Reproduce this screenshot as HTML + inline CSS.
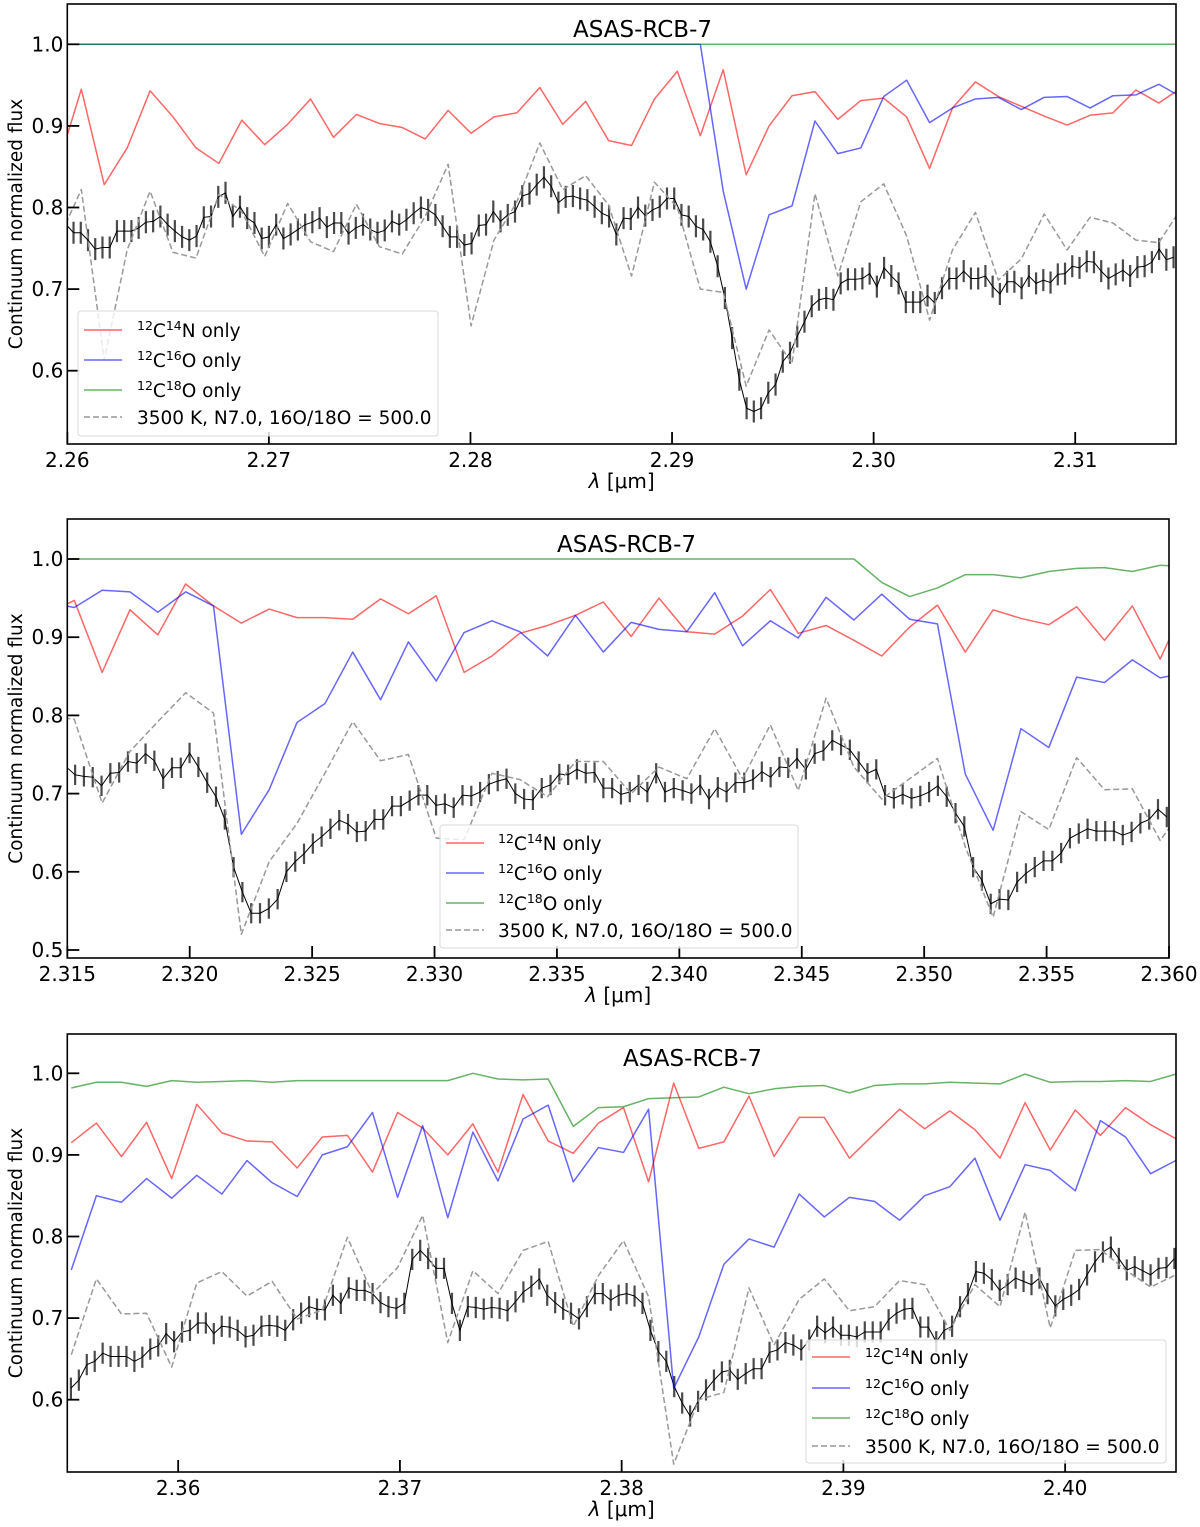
<!DOCTYPE html>
<html><head><meta charset="utf-8"><title>ASAS-RCB-7 spectra</title>
<style>
html,body{margin:0;padding:0;background:#fff;}
svg{display:block;font-family:"DejaVu Sans","Liberation Sans",sans-serif;}
</style></head>
<body>
<svg id="fig" width="1200" height="1527" viewBox="0 0 1200 1527" xmlns="http://www.w3.org/2000/svg"></svg>
<script>
// ---------- Panel 1 data (2.260-2.315 um) ----------
const p1ModelStart = 2.259558;
const p1ModelStep = 0.0011373;
const p1Red = [0.853,0.945,0.828,0.873,0.943,0.911,0.873,0.854,0.907,0.877,0.902,0.933,0.886,0.914,0.903,0.898,0.884,0.919,0.891,0.911,0.916,0.947,0.902,0.930,0.882,0.876,0.933,0.967,0.888,0.969,0.840,0.900,0.937,0.942,0.908,0.931,0.934,0.911,0.848,0.922,0.954,0.936,0.924,0.912,0.901,0.913,0.916,0.944,0.928,0.947];
const p1Blue = [1,1,1,1,1,1,1,1,1,1,1,1,1,1,1,1,1,1,1,1,1,1,1,1,1,1,1,1,1,0.820,0.700,0.791,0.802,0.906,0.866,0.873,0.936,0.956,0.904,0.922,0.933,0.935,0.920,0.935,0.936,0.922,0.937,0.938,0.951,0.935];
const p1Green = [1,1,1,1,1,1,1,1,1,1,1,1,1,1,1,1,1,1,1,1,1,1,1,1,1,1,1,1,1,1,1,1,1,1,1,1,1,1,1,1,1,1,1,1,1,1,1,1,1,1];
const p1Model = [0.76,0.822,0.613,0.748,0.820,0.745,0.738,0.816,0.795,0.740,0.805,0.758,0.746,0.804,0.752,0.743,0.789,0.853,0.655,0.760,0.807,0.879,0.822,0.839,0.803,0.716,0.831,0.80,0.700,0.696,0.581,0.650,0.609,0.817,0.716,0.807,0.829,0.765,0.662,0.748,0.794,0.711,0.737,0.792,0.748,0.788,0.781,0.760,0.757,0.80];
const p1ObsStart = 2.25995;
const p1ObsEnd = 2.31488;
const p1Obs = [0.779,0.769,0.769,0.760,0.749,0.751,0.751,0.771,0.771,0.771,0.775,0.782,0.783,0.789,0.779,0.771,0.764,0.760,0.765,0.788,0.789,0.813,0.818,0.789,0.801,0.787,0.781,0.762,0.764,0.779,0.762,0.767,0.773,0.779,0.782,0.787,0.776,0.781,0.781,0.768,0.775,0.779,0.773,0.769,0.772,0.783,0.779,0.785,0.793,0.800,0.797,0.791,0.777,0.764,0.764,0.754,0.756,0.778,0.779,0.795,0.783,0.791,0.795,0.814,0.817,0.828,0.837,0.826,0.806,0.813,0.814,0.811,0.809,0.801,0.793,0.789,0.767,0.787,
0.786,0.800,0.790,0.797,0.801,0.811,0.811,0.791,0.789,0.777,0.773,0.758,0.728,0.689,0.640,0.589,0.554,0.550,0.554,0.573,0.583,0.611,0.622,0.642,0.660,0.679,0.687,0.689,0.687,0.707,0.712,0.712,0.713,0.719,0.703,0.726,0.716,0.707,0.684,0.684,0.684,0.692,0.683,0.701,0.713,0.713,0.722,0.713,0.713,0.716,0.703,0.694,0.709,0.709,0.701,0.716,0.707,0.711,0.708,0.718,0.719,0.728,0.726,0.734,0.733,0.722,0.713,0.718,0.723,0.716,0.727,0.728,0.733,0.749,0.736,0.739];
const p1Err = 0.0135;
const p1XTicks = [2.26,2.27,2.28,2.29,2.30,2.31];
const p1XTickLabels = ["2.26","2.27","2.28","2.29","2.30","2.31"];
const p1YTicks = [0.6,0.7,0.8,0.9,1.0];
const p1YTickLabels = ["0.6","0.7","0.8","0.9","1.0"];

// ---------- Panel 2 data (2.315-2.360 um) ----------
const p2ModelStart = 2.314148;
const p2ModelStep = 0.0011373;
const p2Red = [0.93,0.947,0.855,0.935,0.903,0.968,0.940,0.918,0.936,0.925,0.925,0.923,0.949,0.930,0.953,0.855,0.876,0.905,0.915,0.928,0.945,0.901,0.950,0.907,0.904,0.927,0.961,0.905,0.915,0.896,0.876,0.913,0.941,0.881,0.935,0.924,0.916,0.939,0.896,0.940,0.872,0.95];
const p2Blue = [0.945,0.938,0.960,0.958,0.932,0.958,0.940,0.648,0.705,0.791,0.815,0.881,0.820,0.894,0.844,0.906,0.921,0.907,0.876,0.928,0.881,0.919,0.910,0.907,0.957,0.889,0.921,0.899,0.951,0.922,0.955,0.923,0.917,0.725,0.653,0.783,0.759,0.849,0.842,0.871,0.848,0.855];
const p2Green = [1,1,1,1,1,1,1,1,1,1,1,1,1,1,1,1,1,1,1,1,1,1,1,1,1,1,1,1,1,1,0.970,0.952,0.963,0.980,0.980,0.976,0.984,0.988,0.989,0.984,0.992,0.99];
const p2Model = [0.80,0.795,0.688,0.754,0.792,0.829,0.803,0.520,0.613,0.662,0.726,0.792,0.742,0.750,0.643,0.641,0.726,0.718,0.696,0.741,0.741,0.700,0.734,0.719,0.783,0.719,0.788,0.704,0.822,0.734,0.693,0.719,0.745,0.632,0.542,0.677,0.654,0.746,0.705,0.706,0.640,0.69];
const p2ObsStart = 2.31496;
const p2ObsEnd = 2.35991;
const p2Obs = [0.734,0.724,0.722,0.721,0.710,0.726,0.727,0.741,0.739,0.751,0.742,0.719,0.733,0.733,0.752,0.734,0.714,0.696,0.667,0.606,0.574,0.547,0.547,0.553,0.565,0.600,0.613,0.623,0.636,0.645,0.655,0.666,0.661,0.651,0.652,0.667,0.667,0.684,0.684,0.691,0.698,0.698,0.685,0.687,0.682,0.698,0.697,0.702,0.712,0.716,0.719,0.700,0.693,0.692,0.707,0.711,0.725,0.724,0.731,0.726,0.727,0.707,0.707,0.699,
0.702,0.711,0.702,0.726,0.702,0.707,0.704,0.700,0.711,0.693,0.708,0.702,0.714,0.714,0.718,0.728,0.721,0.734,0.733,0.745,0.731,0.751,0.755,0.768,0.762,0.756,0.741,0.726,0.731,0.698,0.694,0.699,0.694,0.697,0.702,0.710,0.696,0.675,0.658,0.606,0.589,0.559,0.565,0.564,0.587,0.598,0.606,0.614,0.614,0.624,0.643,0.649,0.655,0.652,0.652,0.652,0.647,0.651,0.662,0.667,0.680,0.670];
const p2Err = 0.013;
const p2XTicks = [2.315,2.320,2.325,2.330,2.335,2.340,2.345,2.350,2.355,2.360];
const p2XTickLabels = ["2.315","2.320","2.325","2.330","2.335","2.340","2.345","2.350","2.355","2.360"];
const p2YTicks = [0.5,0.6,0.7,0.8,0.9,1.0];
const p2YTickLabels = ["0.5","0.6","0.7","0.8","0.9","1.0"];

// ---------- Panel 3 data (2.355-2.405 um) ----------
const p3ModelStart = 2.355179;
const p3ModelStep = 0.001132;
const p3Red = [0.915,0.939,0.898,0.940,0.871,0.962,0.927,0.917,0.916,0.884,0.922,0.924,0.879,0.952,0.933,0.900,0.938,0.879,0.974,0.917,0.902,0.939,0.958,0.867,0.988,0.908,0.916,0.972,0.898,0.946,0.946,0.896,0.926,0.956,0.932,0.954,0.931,0.896,0.964,0.906,0.955,0.924,0.958,0.937,0.920];
const p3Blue = [0.759,0.850,0.842,0.871,0.847,0.875,0.852,0.893,0.866,0.849,0.900,0.910,0.952,0.848,0.936,0.823,0.928,0.868,0.944,0.961,0.867,0.909,0.903,0.956,0.614,0.677,0.766,0.797,0.787,0.852,0.824,0.848,0.843,0.820,0.850,0.861,0.896,0.820,0.888,0.881,0.856,0.942,0.922,0.877,0.893];
const p3Green = [0.982,0.989,0.989,0.984,0.991,0.989,0.990,0.991,0.989,0.991,0.991,0.991,0.991,0.991,0.991,0.991,1.000,0.993,0.992,0.993,0.935,0.958,0.959,0.969,0.970,0.971,0.983,0.975,0.981,0.984,0.985,0.976,0.985,0.987,0.987,0.989,0.988,0.987,0.999,0.989,0.990,0.990,0.991,0.990,0.999];
const p3Model = [0.655,0.748,0.705,0.706,0.640,0.743,0.757,0.727,0.745,0.699,0.710,0.799,0.730,0.762,0.826,0.670,0.758,0.730,0.783,0.794,0.690,0.752,0.795,0.726,0.521,0.600,0.609,0.737,0.667,0.723,0.748,0.709,0.714,0.746,0.741,0.685,0.741,0.714,0.830,0.688,0.783,0.784,0.759,0.738,0.753];
const p3ObsStart = 2.355162;
const p3ObsEnd = 2.404928;
const p3Obs = [0.614,0.624,0.643,0.647,0.657,0.653,0.653,0.653,0.647,0.652,0.662,0.666,0.681,0.671,0.683,0.685,0.694,0.694,0.681,0.690,0.689,0.685,0.677,0.679,0.690,0.691,0.690,0.685,0.698,0.706,0.714,0.711,0.710,0.728,0.718,0.737,0.734,0.734,0.730,0.719,0.714,0.712,0.718,0.772,0.783,0.773,0.761,0.761,0.718,0.685,0.714,0.713,0.711,0.713,0.712,0.709,0.720,0.732,0.739,0.748,0.728,0.719,0.711,0.706,0.699,0.714,0.730,0.730,0.722,0.728,0.730,
0.727,0.718,0.685,0.659,0.647,0.616,0.596,0.580,0.598,0.612,0.624,0.634,0.636,0.625,0.632,0.638,0.638,0.658,0.661,0.670,0.667,0.661,0.673,0.690,0.682,0.689,0.679,0.679,0.677,0.683,0.683,0.683,0.698,0.706,0.711,0.712,0.689,0.689,0.671,0.685,0.690,0.714,0.730,0.757,0.755,0.747,0.734,0.741,0.749,0.745,0.741,0.749,0.730,0.715,0.723,0.728,0.735,0.753,0.769,0.781,0.787,0.773,0.759,0.763,0.758,0.753,0.761,0.762,0.773];
const p3Err = 0.013;
const p3XTicks = [2.36,2.37,2.38,2.39,2.40];
const p3XTickLabels = ["2.36","2.37","2.38","2.39","2.40"];
const p3YTicks = [0.6,0.7,0.8,0.9,1.0];
const p3YTickLabels = ["0.6","0.7","0.8","0.9","1.0"];

const legendLabels = [["12","C","14","N only"],["12","C","16","O only"],["12","C","18","O only"]];
const modelLabel = "3500 K, N7.0, 16O/18O = 500.0";

const NS = "http://www.w3.org/2000/svg";
const svg = document.getElementById("fig");
function mk(tag, attrs, parent){
  const e = document.createElementNS(NS, tag);
  for (const k in attrs) e.setAttribute(k, attrs[k]);
  (parent || svg).appendChild(e);
  return e;
}

const panels = [
  {id:"p1", x0:67.3, x1:1176, top:4, bot:444, lamMin:2.26, lamMax:2.315, y1:44.3, ppu:816,
   mStart:p1ModelStart, mStep:p1ModelStep, red:p1Red, blue:p1Blue, green:p1Green, model:p1Model,
   oStart:p1ObsStart, oEnd:p1ObsEnd, obs:p1Obs, err:p1Err,
   xt:p1XTicks, xtl:p1XTickLabels, yt:p1YTicks, ytl:p1YTickLabels,
   title:{x:573,y:37}, leg:{x:78,y:311,w:360,h:125,rows:[330,360,390,417],lx0:84,lx1:122,tx:137}},
  {id:"p2", x0:67.3, x1:1169, top:519, bot:958, lamMin:2.315, lamMax:2.360, y1:559, ppu:782,
   mStart:p2ModelStart, mStep:p2ModelStep, red:p2Red, blue:p2Blue, green:p2Green, model:p2Model,
   oStart:p2ObsStart, oEnd:p2ObsEnd, obs:p2Obs, err:p2Err,
   xt:p2XTicks, xtl:p2XTickLabels, yt:p2YTicks, ytl:p2YTickLabels,
   title:{x:557,y:552}, leg:{x:440,y:825,w:358,h:123,rows:[843,873,903,930],lx0:446,lx1:484,tx:498}},
  {id:"p3", x0:67.3, x1:1176, top:1034, bot:1472, lamMin:2.355, lamMax:2.405, y1:1073.3, ppu:816,
   mStart:p3ModelStart, mStep:p3ModelStep, red:p3Red, blue:p3Blue, green:p3Green, model:p3Model,
   oStart:p3ObsStart, oEnd:p3ObsEnd, obs:p3Obs, err:p3Err,
   xt:p3XTicks, xtl:p3XTickLabels, yt:p3YTicks, ytl:p3YTickLabels,
   title:{x:623,y:1066}, leg:{x:806,y:1340,w:360,h:123,rows:[1357,1388,1418,1446],lx0:812,lx1:850,tx:865}}
];

const defs = mk("defs", {});

panels.forEach(function(P, pi){
  const xOf = function(l){ return P.x0 + (l - P.lamMin) / (P.lamMax - P.lamMin) * (P.x1 - P.x0); };
  const yOf = function(v){ return P.y1 + (1 - v) * P.ppu; };
  const g = mk("g", {});
  
  

  const cp = mk("clipPath", {id:"clip-"+P.id}, defs);
  mk("rect", {x:P.x0, y:P.top, width:P.x1-P.x0, height:P.bot-P.top}, cp);

  const plot = mk("g", {"clip-path":"url(#clip-"+P.id+")"}, g);
  
  

  // observed spectrum with error bars
  const n = P.obs.length;
  const step = (P.oEnd - P.oStart) / (n - 1);
  let ebd = "", od = "";
  for (let i = 0; i < n; i++){
    const l = P.oStart + i*step;
    const x = xOf(l).toFixed(2);
    ebd += "M" + x + " " + yOf(P.obs[i] + P.err).toFixed(2) + "V" + yOf(P.obs[i] - P.err).toFixed(2);
    od += (i ? "L" : "M") + x + " " + yOf(P.obs[i]).toFixed(2);
  }
  const eb = mk("path", {d:ebd, stroke:"#4a4a4a", "stroke-width":2.2, fill:"none"}, plot);
  
  
  const ol = mk("path", {d:od, stroke:"#000", "stroke-width":1, fill:"none"}, plot);
  
  

  function series(arr, color, name, extra){
    let d = "";
    for (let i = 0; i < arr.length; i++){
      const l = P.mStart + i*P.mStep;
      d += (i ? "L" : "M") + xOf(l).toFixed(2) + " " + yOf(arr[i]).toFixed(2);
    }
    const attrs = {d:d, stroke:color, "stroke-width":1.5, fill:"none", "stroke-linejoin":"round"};
    for (const k in (extra||{})) attrs[k] = extra[k];
    const p = mk("path", attrs, plot);
    
    
  }
  series(P.red, "#ff0000", "cn-only-line", {"stroke-opacity":0.6});
  series(P.blue, "#0000ff", "co16-only-line", {"stroke-opacity":0.6});
  series(P.green, "#008000", "co18-only-line", {"stroke-opacity":0.6});
  series(P.model, "#999999", "model-3500k-line", {"stroke-dasharray":"6,3"});

  // frame
  const fr = mk("rect", {x:P.x0, y:P.top, width:P.x1-P.x0, height:P.bot-P.top, fill:"none", stroke:"#000", "stroke-width":1.6}, g);
  
  

  // x ticks
  const xg = mk("g", {}, g);
  
  
  P.xt.forEach(function(t, i){
    const x = xOf(t);
    mk("line", {x1:x, x2:x, y1:P.bot, y2:P.bot-12, stroke:"#000", "stroke-width":1.8}, xg);
    const tx = mk("text", {x:x, y:P.bot+23, "font-size":20, "text-anchor":"middle", fill:"#000"}, xg);
    tx.textContent = P.xtl[i];
    
    
  });
  const xl = mk("text", {x:(P.x0+P.x1)/2, y:P.bot+44, "font-size":20, "text-anchor":"middle", fill:"#000"}, xg);
  
  
  const lt = mk("tspan", {"font-style":"italic"}, xl); lt.textContent = "λ";
  const rt = mk("tspan", {}, xl); rt.textContent = " [μm]";

  // y ticks
  const yg = mk("g", {}, g);
  
  
  P.yt.forEach(function(t, i){
    const y = yOf(t);
    mk("line", {x1:P.x0, x2:P.x0+12, y1:y, y2:y, stroke:"#000", "stroke-width":1.8}, yg);
    const tx = mk("text", {x:P.x0-4, y:y+7, "font-size":20, "text-anchor":"end", fill:"#000"}, yg);
    tx.textContent = P.ytl[i];
    
    
  });
  const cy = (P.top + P.bot)/2;
  const yl = mk("text", {x:0, y:0, "font-size":18.5, "text-anchor":"middle", fill:"#000", transform:"translate(22,"+cy+") rotate(-90)"}, yg);
  yl.textContent = "Continuum normalized flux";
  
  

  // title
  const ti = mk("text", {x:P.title.x, y:P.title.y, "font-size":23, fill:"#000"}, g);
  ti.textContent = "ASAS-RCB-7";
  
  

  // legend
  const L = P.leg;
  const lg = mk("g", {}, g);
  
  
  mk("rect", {x:L.x, y:L.y, width:L.w, height:L.h, rx:3, fill:"#fff", "fill-opacity":0.8, stroke:"#d8d8d8", "stroke-width":1}, lg);
  const cols = [["#ff0000",0.6,null],["#0000ff",0.6,null],["#008000",0.6,null],["#999999",1,"6,3"]];
  for (let r = 0; r < 4; r++){
    const ent = mk("g", {}, lg);
    
    
    const la = {x1:L.lx0, x2:L.lx1, y1:L.rows[r], y2:L.rows[r], stroke:cols[r][0], "stroke-opacity":cols[r][1], "stroke-width":1.5};
    if (cols[r][2]) la["stroke-dasharray"] = cols[r][2];
    mk("line", la, ent);
    const t = mk("text", {x:L.tx, y:L.rows[r]+7, "font-size":18.5, fill:"#000"}, ent);
    if (r < 3){
      const parts = legendLabels[r];
      const s1 = mk("tspan", {"font-size":12.5, dy:-7}, t); s1.textContent = parts[0];
      const s2 = mk("tspan", {dy:7}, t); s2.textContent = parts[1];
      const s3 = mk("tspan", {"font-size":12.5, dy:-7}, t); s3.textContent = parts[2];
      const s4 = mk("tspan", {dy:7}, t); s4.textContent = parts[3];
    } else {
      t.textContent = modelLabel;
    }
  }
});
</script>
</body></html>
